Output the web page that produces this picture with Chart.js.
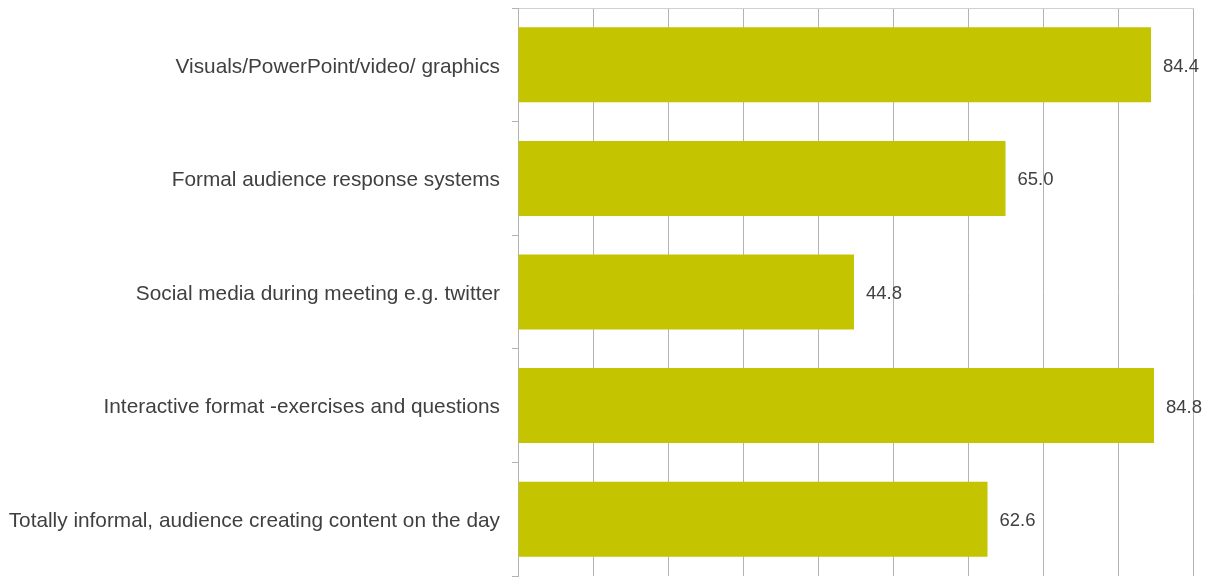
<!DOCTYPE html>
<html>
<head>
<meta charset="utf-8">
<script src="https://cdn.jsdelivr.net/npm/chart.js@4"></script>
<style>
  html, body { margin: 0; padding: 0; background: #fff; }
  #wrap { width: 1220px; height: 577px; }
</style>
</head>
<body>
<div id="wrap"><canvas id="chart"></canvas></div>
<script>
const categories = [
  "Visuals/PowerPoint/video/ graphics",
  "Formal audience response systems",
  "Social media during meeting e.g. twitter",
  "Interactive format -exercises and questions",
  "Totally informal, audience creating content on the day"
];
const values = [84.4, 65.0, 44.8, 84.8, 62.6];
const xMax = 90;
const xStep = 10;

// draws the value next to each bar end
const valueLabels = {
  id: "valueLabels",
  afterDatasetsDraw(chart) {
    const ctx = chart.ctx;
    const meta = chart.getDatasetMeta(0);
    ctx.save();
    ctx.font = "18.5px 'Liberation Sans', Arial, sans-serif";
    ctx.fillStyle = "#404040";
    ctx.textAlign = "left";
    ctx.textBaseline = "middle";
    meta.data.forEach((bar, i) => {
      ctx.fillText(values[i].toFixed(1), bar.x + 12, bar.y + 2);
    });
    ctx.restore();
  }
};

new Chart(document.getElementById("chart"), {
  type: "bar",
  data: {
    labels: categories,
    datasets: [{
      data: values,
      backgroundColor: "#c4c400",
      barPercentage: 0.66,
      categoryPercentage: 1
    }]
  },
  options: {
    indexAxis: "y",
    responsive: true,
    maintainAspectRatio: false,
    animation: false,
    layout: { padding: { top: 8, bottom: 1, left: 0, right: 27 } },
    plugins: { legend: { display: false }, tooltip: { enabled: false } },
    scales: {
      x: {
        position: "top",
        min: 0,
        max: xMax,
        ticks: { display: false, stepSize: xStep },
        grid: { color: "#b3b3b3", drawTicks: false },
        border: { display: true, color: "#d0d0d0" }
      },
      y: {
        afterFit(scale) {
          scale.width = 518;
          scale.paddingTop = 0;
          scale.paddingBottom = 0;
        },
        ticks: {
          color: "#404040",
          font: { family: "'Liberation Sans', Arial, sans-serif", size: 20.8 },
          padding: 12,
          labelOffset: 2
        },
        grid: { drawOnChartArea: false, drawTicks: true, tickLength: 6, color: "#b3b3b3" },
        border: { color: "#b3b3b3" }
      }
    }
  },
  plugins: [valueLabels]
});
</script>
</body>
</html>
